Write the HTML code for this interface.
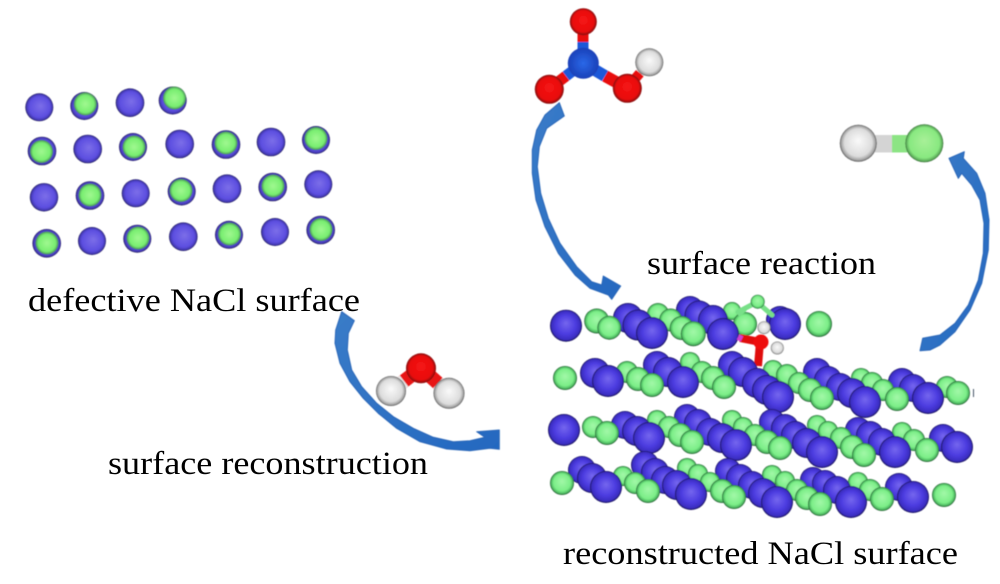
<!DOCTYPE html>
<html>
<head>
<meta charset="utf-8">
<style>
html,body{margin:0;padding:0;background:#fff;width:1000px;height:584px;overflow:hidden}
svg{display:block}
text{font-family:"Liberation Serif",serif;font-size:33px;fill:#000}
.p{fill:url(#gp)}.g{fill:url(#gg)}.q{fill:url(#lp)}.l{fill:url(#lg);r:11.5px}
.a{fill:url(#ga);stroke:#2a66b8;stroke-width:1;stroke-linejoin:round}
</style>
</head>
<body>
<svg width="1000" height="584" viewBox="0 0 1000 584" xmlns="http://www.w3.org/2000/svg">
<defs>
<filter id="s" x="-2%" y="-2%" width="104%" height="104%"><feGaussianBlur stdDeviation="0.45"/></filter>
<radialGradient id="gp" cx=".5" cy=".5" r=".5" fx=".5" fy=".42"><stop offset="0" stop-color="#7566ee"/><stop offset=".6" stop-color="#4c3ce0"/><stop offset=".9" stop-color="#3a2cc0"/><stop offset="1" stop-color="#141048"/></radialGradient>
<radialGradient id="gg" cx=".5" cy=".5" r=".5" fx=".5" fy=".42"><stop offset="0" stop-color="#a2f8a8"/><stop offset=".7" stop-color="#7cee88"/><stop offset=".9" stop-color="#4cb860"/><stop offset="1" stop-color="#1c4a28"/></radialGradient>
<radialGradient id="lp" cx=".5" cy=".5" r=".5" fx=".55" fy=".45"><stop offset="0" stop-color="#7c6ee8"/><stop offset=".75" stop-color="#5c4ee0"/><stop offset=".93" stop-color="#4238b0"/><stop offset="1" stop-color="#16123c"/></radialGradient>
<radialGradient id="lg" cx=".5" cy=".5" r=".5"><stop offset="0" stop-color="#a0f890"/><stop offset=".75" stop-color="#78ee70"/><stop offset=".94" stop-color="#55a860"/><stop offset="1" stop-color="#3a5a50"/></radialGradient>
<radialGradient id="gr" cx=".5" cy=".5" r=".5" fx=".5" fy=".42"><stop offset="0" stop-color="#f61818"/><stop offset=".8" stop-color="#e80808"/><stop offset="1" stop-color="#800808"/></radialGradient>
<radialGradient id="gw" cx=".5" cy=".5" r=".5" fx=".5" fy=".42"><stop offset="0" stop-color="#fafafa"/><stop offset=".75" stop-color="#dcdcdc"/><stop offset=".93" stop-color="#a0a0a0"/><stop offset="1" stop-color="#484848"/></radialGradient>
<radialGradient id="gb" cx=".5" cy=".5" r=".5"><stop offset="0" stop-color="#2a68e8"/><stop offset="1" stop-color="#1a40b8"/></radialGradient>
<radialGradient id="gc" cx=".5" cy=".5" r=".5" fx=".5" fy=".42"><stop offset="0" stop-color="#a8f098"/><stop offset=".8" stop-color="#88e880"/><stop offset=".95" stop-color="#5aa858"/><stop offset="1" stop-color="#2a5a2a"/></radialGradient>
<linearGradient id="ga" x1="0" y1="0" x2="1" y2="1"><stop offset="0" stop-color="#3a7cc8"/><stop offset="1" stop-color="#2468c0"/></linearGradient>
</defs>

<g filter="url(#s)">
<!-- defective surface -->
<g>
<circle class="q" cx="39.3" cy="107.3" r="14"/>
<circle class="q" cx="84.3" cy="106" r="14"/><circle class="l" cx="85.3" cy="104" r="11.5"/>
<circle class="q" cx="130" cy="102.7" r="14.3"/>
<circle class="q" cx="172.7" cy="100.5" r="14"/><circle class="l" cx="174.5" cy="98" r="11.5"/>
<circle class="q" cx="42" cy="151" r="14.3"/><circle class="l" cx="41.5" cy="151.5" r="11.5"/>
<circle class="q" cx="87.7" cy="149" r="14.3"/>
<circle class="q" cx="133" cy="147" r="14"/><circle class="l" cx="134" cy="147" r="11.5"/>
<circle class="q" cx="179.7" cy="144" r="14.3"/>
<circle class="q" cx="226" cy="144.5" r="14.3"/><circle class="l" cx="226" cy="143" r="11.5"/>
<circle class="q" cx="271" cy="142" r="14.3"/>
<circle class="q" cx="316" cy="140" r="14"/><circle class="l" cx="316" cy="138.5" r="11.5"/>
<circle class="q" cx="44" cy="197.3" r="14.2"/>
<circle class="q" cx="90" cy="195.5" r="14.3"/><circle class="l" cx="90" cy="195" r="11.5"/>
<circle class="q" cx="135.7" cy="193.3" r="14"/>
<circle class="q" cx="181.7" cy="191.5" r="14"/><circle class="l" cx="181" cy="190.5" r="11.5"/>
<circle class="q" cx="227" cy="188.7" r="14.3"/>
<circle class="q" cx="272.7" cy="187" r="14.3"/><circle class="l" cx="273" cy="186" r="11.5"/>
<circle class="q" cx="318.3" cy="184.3" r="14"/>
<circle class="q" cx="46.7" cy="243.3" r="14.3"/><circle class="l" cx="47" cy="243" r="11.5"/>
<circle class="q" cx="92" cy="241" r="14"/>
<circle class="q" cx="137.3" cy="238.7" r="14"/><circle class="l" cx="138" cy="238" r="11.5"/>
<circle class="q" cx="183.3" cy="236.7" r="14.3"/>
<circle class="q" cx="229" cy="234.8" r="14"/><circle class="l" cx="229.5" cy="234" r="11.5"/>
<circle class="q" cx="275" cy="232" r="14"/>
<circle class="q" cx="320.7" cy="230" r="14.3"/><circle class="l" cx="321" cy="229.5" r="11.5"/>
</g>

<!-- arrows -->
<polygon class="a" points="341.7,311.7 335.7,330 335,343.3 340,363.3 350,381.7 363.3,398.3 378.3,413.3 396.7,428.3 420,441.7 446.7,449 470,450.7 490,448.3 499.3,449.3 499.3,430 476.7,431.7 485,437.3 470,440.7 453.3,441.7 433.3,437.3 413.3,428.3 393.3,416.7 376.7,403.3 361.7,386.7 351.7,370 347.3,350 348.3,333.3 354.3,320.7"/>
<polygon class="a" points="559.3,102.7 545,115 536.7,130 532.3,150 532.3,173.3 536,200 545,226.7 558.3,253.3 575,275 590,288.3 608.3,295 611.7,299.3 620.7,286 603.3,276 601.7,285 591.7,281.7 576.7,266.7 560,243.3 548.3,218.3 540.7,193.3 537.3,166.7 539.3,146.7 546.7,128.3 564.3,116"/>
<polygon class="a" points="920,350.7 922.7,338.3 940,335 955,323.3 968.3,305 978.3,280 983.3,253.3 984,223.3 980,200 971.7,185 961.7,173.3 958.3,178.3 949,158.3 964.3,151.7 963.3,158.3 976.7,173.3 985,193.3 989,220 988.3,250 981.7,283.3 970,310 955,331.7 940,345 930,350"/>

<!-- row 1 -->
<g>
<circle class="p" cx="690" cy="310" r="14"/><circle class="g" cx="658" cy="314" r="11"/>
<circle class="g" cx="732" cy="311" r="9"/><circle class="p" cx="699" cy="315" r="14.5"/>
<circle class="p" cx="628" cy="318" r="15"/><circle class="g" cx="670.7" cy="320" r="11.5"/>
<circle class="p" cx="713" cy="320" r="15"/><circle class="g" cx="596.7" cy="321" r="12.5"/>
<circle class="p" cx="780" cy="320" r="14"/><circle class="g" cx="745" cy="324" r="12"/>
<circle class="p" cx="638" cy="325" r="15.5"/><circle class="p" cx="566" cy="325.7" r="16"/>
<circle class="g" cx="819" cy="324" r="13"/><circle class="p" cx="785" cy="324" r="16"/>
<circle class="g" cx="609.3" cy="327.7" r="12"/><circle class="g" cx="681.7" cy="328" r="12"/>
<circle class="p" cx="652" cy="333" r="16"/><circle class="g" cx="693.3" cy="333.7" r="12.5"/>
<circle class="p" cx="723" cy="334" r="16"/>
</g>

<!-- adsorbate -->
<g>
<path d="M738 312 L757 302 L772 315" fill="none" stroke="#78e088" stroke-width="5" stroke-linecap="round"/>
<path d="M738 315 L745 309" fill="none" stroke="#78e088" stroke-width="5"/>
<circle class="g" cx="757.7" cy="301.7" r="7"/>
<path d="M740 338 L760 342 L758 366" fill="none" stroke="#e01010" stroke-width="8"/>
<path d="M738 337 L742 339" stroke="#d040d0" stroke-width="6"/>
<circle cx="761" cy="342" r="7.5" fill="#ee1010"/>
<circle cx="764" cy="327.7" r="6.5" fill="url(#gw)"/>
<circle cx="777.3" cy="348" r="6.5" fill="url(#gw)"/>
</g>

<!-- row 2 -->
<g>
<circle class="g" cx="690" cy="362" r="10"/><circle class="p" cx="657" cy="365" r="14"/>
<circle class="p" cx="732" cy="365" r="14"/><circle class="g" cx="773" cy="370" r="10"/>
<circle class="g" cx="627" cy="372" r="11"/><circle class="g" cx="702" cy="372" r="11"/>
<circle class="p" cx="668" cy="372" r="15"/><circle class="p" cx="743" cy="372" r="15"/>
<circle class="p" cx="817" cy="372" r="14"/><circle class="p" cx="595" cy="373" r="15"/>
<circle class="g" cx="787" cy="375" r="11"/><circle class="g" cx="565" cy="378" r="12"/>
<circle class="g" cx="713" cy="378" r="12"/><circle class="g" cx="861" cy="378" r="10"/>
<circle class="g" cx="638" cy="379" r="12"/><circle class="p" cx="828" cy="380" r="14"/>
<circle class="p" cx="608" cy="381" r="16"/><circle class="p" cx="902" cy="382" r="14"/>
<circle class="p" cx="683" cy="382" r="16"/><circle class="g" cx="799" cy="383" r="11"/>
<circle class="p" cx="757" cy="383" r="15"/><circle class="g" cx="872" cy="383" r="11"/>
<circle class="g" cx="652" cy="385" r="12"/><circle class="p" cx="840" cy="387" r="14"/>
<circle class="g" cx="724" cy="387" r="12"/><circle class="g" cx="947" cy="387" r="11"/>
<circle class="p" cx="913" cy="388" r="14"/><circle class="p" cx="767" cy="390" r="15"/>
<circle class="g" cx="810" cy="390" r="12"/><circle class="g" cx="883" cy="390" r="11"/>
<circle class="p" cx="852" cy="393" r="15"/><circle class="g" cx="958" cy="393" r="12"/>
<circle class="p" cx="778" cy="397" r="16"/><circle class="g" cx="822" cy="398" r="12"/>
<circle class="p" cx="928" cy="398" r="16"/><circle class="g" cx="897" cy="399" r="12"/>
<circle class="p" cx="865" cy="402" r="16"/>
<rect x="973" y="389" width="1" height="8" fill="#456"/>
</g>

<!-- row 3 -->
<g>
<circle class="p" cx="687" cy="417" r="13"/><circle class="g" cx="657" cy="420" r="10"/>
<circle class="g" cx="732" cy="420" r="10"/><circle class="p" cx="772" cy="422" r="13"/>
<circle class="p" cx="698" cy="423" r="14"/><circle class="p" cx="625" cy="425" r="14"/>
<circle class="g" cx="817" cy="425" r="10"/><circle class="g" cx="593" cy="427" r="11"/>
<circle class="g" cx="669" cy="427" r="11"/><circle class="g" cx="743" cy="427" r="10"/>
<circle class="p" cx="785" cy="428" r="14"/><circle class="p" cx="564" cy="430" r="16"/>
<circle class="p" cx="858" cy="430" r="13"/><circle class="p" cx="637" cy="431" r="15"/>
<circle class="g" cx="828" cy="431" r="10"/><circle class="g" cx="902" cy="432" r="10"/>
<circle class="p" cx="710" cy="432" r="14"/><circle class="g" cx="607" cy="433" r="12"/>
<circle class="g" cx="680" cy="435" r="12"/><circle class="g" cx="755" cy="435" r="11"/>
<circle class="p" cx="795" cy="435" r="14"/><circle class="p" cx="870" cy="435" r="14"/>
<circle class="p" cx="649" cy="438" r="16"/><circle class="p" cx="722" cy="438" r="15"/>
<circle class="g" cx="841" cy="438" r="11"/><circle class="p" cx="943" cy="438" r="14"/>
<circle class="g" cx="914" cy="440" r="11"/><circle class="g" cx="692" cy="442" r="12"/>
<circle class="g" cx="767" cy="442" r="12"/><circle class="p" cx="882" cy="442" r="14"/>
<circle class="p" cx="807" cy="443" r="15"/><circle class="p" cx="736" cy="445" r="16"/>
<circle class="g" cx="852" cy="447" r="12"/><circle class="p" cx="957" cy="447" r="16"/>
<circle class="g" cx="780" cy="448" r="12"/><circle class="g" cx="927" cy="450" r="12"/>
<circle class="p" cx="822" cy="452" r="16"/><circle class="p" cx="895" cy="452" r="16"/>
<circle class="g" cx="864" cy="455" r="12"/>
</g>

<!-- row 4 -->
<g>
<circle class="p" cx="645" cy="465" r="14"/><circle class="g" cx="687" cy="468" r="10"/>
<circle class="p" cx="582" cy="470" r="14"/><circle class="p" cx="728" cy="471" r="13"/>
<circle class="p" cx="655" cy="472" r="14"/><circle class="g" cx="698" cy="474" r="10"/>
<circle class="g" cx="772" cy="475" r="10"/><circle class="g" cx="623" cy="476" r="10"/>
<circle class="p" cx="592" cy="478" r="15"/><circle class="p" cx="740" cy="478" r="14"/>
<circle class="p" cx="665" cy="480" r="14"/><circle class="p" cx="813" cy="480" r="13"/>
<circle class="g" cx="785" cy="481" r="10"/><circle class="g" cx="710" cy="482" r="10"/>
<circle class="g" cx="858" cy="482" r="10"/><circle class="g" cx="562" cy="483" r="12"/>
<circle class="g" cx="635" cy="483" r="11"/><circle class="p" cx="825" cy="483" r="13"/>
<circle class="p" cx="677" cy="485" r="15"/><circle class="p" cx="752" cy="485" r="14"/>
<circle class="p" cx="606" cy="487" r="16"/><circle class="p" cx="899" cy="487" r="14"/>
<circle class="g" cx="797" cy="490" r="11"/><circle class="p" cx="837" cy="490" r="14"/>
<circle class="g" cx="870" cy="490" r="11"/><circle class="g" cx="648" cy="491" r="12"/>
<circle class="g" cx="722" cy="491" r="12"/><circle class="p" cx="763" cy="493" r="15"/>
<circle class="p" cx="691" cy="494" r="16"/><circle class="g" cx="944" cy="495" r="12"/>
<circle class="p" cx="913" cy="497" r="16"/><circle class="g" cx="734" cy="497" r="12"/>
<circle class="g" cx="807" cy="498" r="12"/><circle class="g" cx="882" cy="499" r="12"/>
<circle class="p" cx="777" cy="502" r="16"/><circle class="p" cx="851" cy="502" r="16"/>
<circle class="g" cx="820" cy="504" r="12"/>
</g>

<!-- H2O -->
<g>
<line x1="421" y1="368" x2="391" y2="391" stroke="#e81818" stroke-width="14"/>
<line x1="421" y1="368" x2="449" y2="393" stroke="#e81818" stroke-width="14"/>
<line x1="404" y1="381" x2="391" y2="391" stroke="#e8e8e8" stroke-width="14"/>
<line x1="438" y1="383" x2="449" y2="393" stroke="#e8e8e8" stroke-width="14"/>
<circle cx="391" cy="391" r="15" fill="url(#gw)"/>
<circle cx="449" cy="393.3" r="15.5" fill="url(#gw)"/>
<circle cx="421" cy="368.3" r="15" fill="url(#gr)"/>
</g>

<!-- HNO3 -->
<g>
<line x1="583" y1="22" x2="583" y2="42" stroke="#e81010" stroke-width="11"/>
<line x1="583" y1="42" x2="583" y2="63" stroke="#1f58d8" stroke-width="11"/>
<line x1="549" y1="89" x2="566" y2="76" stroke="#e81010" stroke-width="11"/>
<line x1="566" y1="76" x2="583" y2="63" stroke="#1f58d8" stroke-width="11"/>
<line x1="627" y1="88" x2="605" y2="76" stroke="#e81010" stroke-width="12"/>
<line x1="605" y1="76" x2="583" y2="63" stroke="#1f58d8" stroke-width="12"/>
<line x1="627" y1="88" x2="640" y2="73" stroke="#e81010" stroke-width="10"/>
<line x1="640" y1="73" x2="649" y2="62" stroke="#e8e8e8" stroke-width="10"/>
<circle cx="583.3" cy="63.3" r="15.5" fill="url(#gb)"/>
<circle cx="583.3" cy="21.7" r="13.5" fill="url(#gr)"/>
<circle cx="549.3" cy="89.3" r="14.5" fill="url(#gr)"/>
<circle cx="627.3" cy="88.3" r="14.5" fill="url(#gr)"/>
<circle cx="649.3" cy="62.3" r="14" fill="url(#gw)"/>
</g>

<!-- HCl -->
<g>
<rect x="872" y="135" width="20" height="17.5" fill="#d4d4d4"/>
<rect x="892" y="135" width="18" height="17.5" fill="#8ce484"/>
<circle cx="858.3" cy="143.3" r="18.5" fill="url(#gw)"/>
<circle cx="924.3" cy="143.3" r="19" fill="url(#gc)"/>
</g>
</g>

<text x="28" y="311" textLength="332" lengthAdjust="spacingAndGlyphs">defective NaCl surface</text>
<text x="108" y="474" textLength="320" lengthAdjust="spacingAndGlyphs">surface reconstruction</text>
<text x="647" y="274" textLength="229" lengthAdjust="spacingAndGlyphs">surface reaction</text>
<text x="563" y="564" textLength="395" lengthAdjust="spacingAndGlyphs">reconstructed NaCl surface</text>
</svg>
</body>
</html>
